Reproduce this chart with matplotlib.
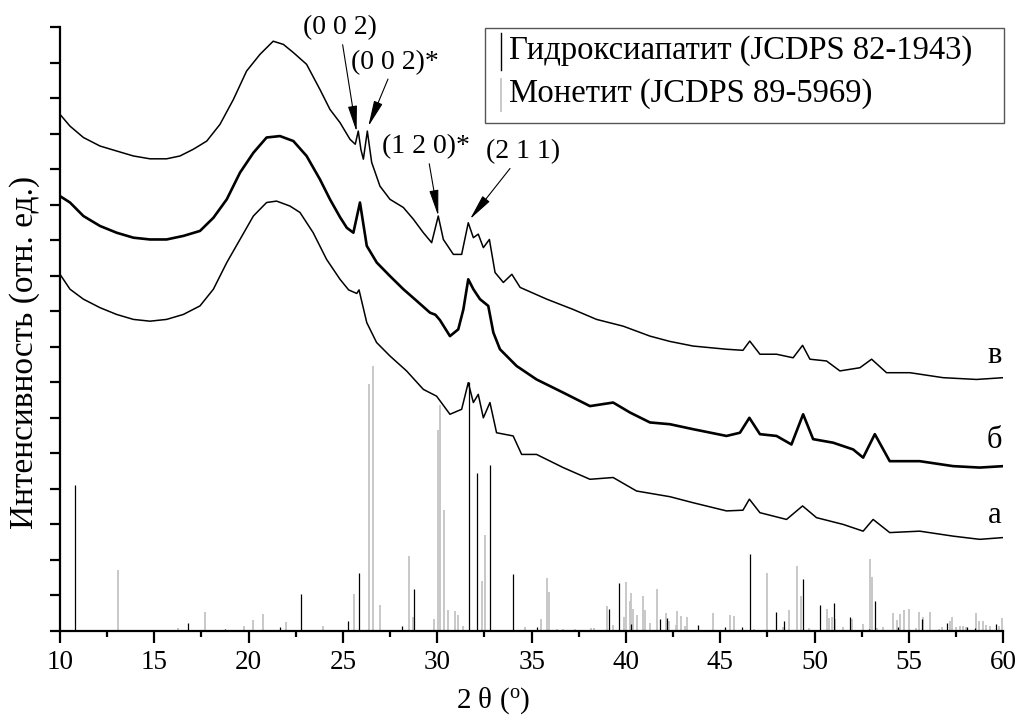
import matplotlib
matplotlib.use("Agg")
import matplotlib.pyplot as plt
from matplotlib.lines import Line2D
from matplotlib.patches import Rectangle

plt.rcParams['font.family'] = ['Liberation Serif', 'DejaVu Serif']
plt.rcParams['mathtext.fontset'] = 'custom'
plt.rcParams['mathtext.rm'] = 'Liberation Serif'
plt.rcParams['mathtext.it'] = 'Liberation Serif:italic'

# ---- data ----
x_v = [10.0, 10.53, 11.24, 12.12, 13.0, 13.89, 14.77, 15.65, 16.36, 17.07, 17.78, 18.48, 19.19, 19.89,
       20.6, 21.3, 21.84, 22.37, 23.07, 23.78, 24.31, 24.84, 25.37, 25.65, 25.81, 25.95, 26.08, 26.29,
       26.52, 26.96, 27.49, 28.2, 28.73, 29.26, 29.7, 30.05, 30.32, 30.85, 31.29, 31.64, 31.91, 32.17,
       32.44, 32.76, 33.06, 33.5, 33.95, 34.39, 35.8, 37.2, 38.44, 39.85, 41.27, 42.33, 43.56, 45.33,
       46.2, 46.56, 47.1, 47.98, 48.86, 49.36, 49.75, 50.63, 51.34, 52.4, 53.02, 53.81, 55.05, 56.81,
       58.58, 60.0]
y_v = [14.54, 14.21, 13.89, 13.65, 13.51, 13.37, 13.29, 13.29, 13.37, 13.56, 13.79, 14.26, 14.96, 15.76,
       16.23, 16.6, 16.51, 16.28, 15.95, 15.24, 14.68, 14.31, 13.84, 13.7, 14.07, 13.55, 13.28, 14.07,
       13.19, 12.52, 12.15, 11.92, 11.59, 11.21, 10.93, 11.68, 11.02, 10.6, 10.6, 11.49, 11.07, 11.17,
       10.79, 11.02, 10.09, 9.81, 10.04, 9.67, 9.34, 9.05, 8.77, 8.58, 8.3, 8.15, 8.02, 7.93,
       7.9, 8.16, 7.79, 7.79, 7.69, 8.04, 7.65, 7.6, 7.32, 7.41, 7.65, 7.27, 7.27, 7.13,
       7.08, 7.13]

x_b = [10.0, 10.53, 11.24, 12.12, 13.0, 13.89, 14.77, 15.65, 16.54, 17.42, 18.13, 18.84, 19.54, 20.25,
       20.95, 21.66, 22.37, 23.07, 23.78, 24.31, 24.84, 25.2, 25.55, 25.9, 26.26, 26.79, 27.49, 28.2,
       28.91, 29.61, 29.9, 30.14, 30.67, 31.11, 31.38, 31.64, 31.91, 32.26, 32.7, 32.97, 33.32, 34.2,
       35.26, 36.67, 38.09, 39.32, 40.21, 41.27, 42.33, 43.56, 45.33, 46.04, 46.54, 47.1, 47.98, 48.77,
       49.39, 49.92, 50.98, 52.04, 52.57, 53.19, 53.98, 55.57, 57.34, 58.75, 60.0]
y_b = [12.24, 12.06, 11.68, 11.4, 11.21, 11.07, 11.02, 11.02, 11.12, 11.26, 11.63, 12.15, 12.9, 13.46,
       13.89, 13.93, 13.79, 13.37, 12.71, 12.15, 11.65, 11.35, 11.21, 12.06, 10.84, 10.37, 9.99, 9.62,
       9.29, 8.96, 8.9, 8.75, 8.3, 8.49, 9.05, 9.9, 9.62, 9.34, 9.15, 8.4, 7.93, 7.46,
       7.08, 6.71, 6.33, 6.43, 6.15, 5.87, 5.82, 5.68, 5.49, 5.58, 6.0, 5.54, 5.49, 5.25,
       6.1, 5.4, 5.3, 5.11, 4.88, 5.54, 4.78, 4.78, 4.64, 4.6, 4.64]

x_a = [10.0, 10.53, 11.24, 12.12, 13.0, 13.89, 14.77, 15.65, 16.54, 17.42, 18.13, 18.84, 19.54, 20.25,
       20.95, 21.48, 22.19, 22.72, 23.42, 24.13, 24.84, 25.3, 25.73, 25.85, 26.26, 26.78, 27.49, 28.37,
       29.26, 29.96, 30.67, 31.29, 31.64, 31.91, 32.17, 32.44, 32.79, 33.14, 34.02, 34.47, 35.26, 36.67,
       38.09, 39.32, 40.56, 42.33, 43.56, 45.33, 46.2, 46.54, 47.1, 48.51, 49.36, 50.1, 51.51, 52.57,
       53.1, 53.98, 55.57, 57.34, 58.75, 60.0]
y_a = [10.04, 9.62, 9.34, 9.1, 8.91, 8.77, 8.72, 8.77, 8.91, 9.15, 9.62, 10.37, 11.02, 11.68,
       12.06, 12.1, 11.96, 11.78, 11.21, 10.46, 9.9, 9.6, 9.5, 9.6, 8.68, 8.12, 7.74, 7.32,
       6.8, 6.61, 6.1, 6.24, 6.99, 6.43, 6.66, 6.0, 6.43, 5.58, 5.49, 4.97, 4.97, 4.6,
       4.27, 4.32, 3.94, 3.78, 3.61, 3.38, 3.4, 3.71, 3.33, 3.14, 3.52, 3.19, 3.0, 2.81,
       3.14, 2.77, 2.81, 2.67, 2.58, 2.63]

ha_pos = [10.78, 16.80, 18.74, 21.66, 22.77, 25.28, 25.86, 28.11, 28.78, 31.66, 32.12, 32.78, 34.0,
          35.3, 39.08, 39.61, 40.29, 41.81, 42.18, 43.82, 45.26, 46.17, 46.55, 47.93, 48.37, 49.39,
          50.26, 51.02, 51.9, 52.86, 53.21, 54.43, 55.67, 56.99, 58.09, 58.5, 59.62]
ha_int = [4.11, 0.23, 0.05, 0.1, 1.05, 0.28, 1.63, 0.14, 1.17, 7.0, 4.46, 4.66, 1.61,
          0.1, 0.62, 1.35, 0.2, 0.35, 0.36, 0.17, 0.12, 0.12, 2.16, 0.53, 0.27, 1.47,
          0.73, 0.78, 0.4, 0.07, 0.84, 0.1, 0.33, 0.22, 0.1, 0.08, 0.2]

mo_pos = [13.09, 16.24, 17.68, 19.77, 20.21, 20.78, 21.96, 23.95, 25.6, 26.36, 26.57, 26.94, 28.51,
          28.72, 29.84, 30.05, 30.15, 30.37, 30.58, 30.95, 31.11, 31.37, 32.38, 32.51, 34.66, 35.47,
          35.82, 35.9, 36.34, 36.64, 37.29, 38.12, 38.3, 38.97, 39.29, 39.87, 40.01, 40.19, 40.26,
          40.35, 40.56, 40.91, 41.03, 41.27, 41.67, 42.13, 42.27, 42.63, 42.73, 42.89, 43.12, 43.24,
          44.2, 44.59, 44.89, 45.49, 45.7, 46.8, 47.5, 48.3, 48.63, 49.09, 49.3, 49.71, 50.63, 50.74,
          50.9, 51.07, 51.5, 51.99, 52.57, 52.93, 53.05, 53.31, 53.63, 54.18, 54.34, 54.55, 54.76,
          55.01, 55.38, 55.54, 55.76, 56.1, 56.6, 56.76, 57.18, 57.3, 57.5, 57.7, 57.85, 58.0, 58.55,
          58.71, 58.92, 59.1, 59.28, 59.78, 59.94]
mo_int = [1.72, 0.08, 0.54, 0.14, 0.3, 0.47, 0.25, 0.15, 1.05, 6.95, 7.46, 0.73, 2.1,
          0.4, 0.35, 5.66, 6.36, 3.4, 0.58, 0.55, 0.45, 0.14, 1.4, 2.7, 0.1, 0.33,
          1.5, 1.1, 0.07, 0.07, 0.05, 0.08, 0.08, 0.7, 0.17, 0.4, 1.38, 0.85, 1.07,
          0.63, 0.45, 0.98, 0.6, 0.22, 1.18, 0.5, 0.27, 0.18, 0.55, 0.41, 0.14, 0.39,
          0.03, 0.52, 0.03, 0.46, 0.41, 0.05, 1.63, 0.12, 0.58, 1.82, 0.99, 0.08, 0.63, 0.37,
          0.38, 0.35, 0.1, 0.35, 0.2, 2.04, 1.52, 0.08, 0.1, 0.5, 0.3, 0.47, 0.6,
          0.63, 0.08, 0.53, 0.39, 0.53, 0.05, 0.1, 0.28, 0.4, 0.12, 0.15, 0.15, 0.12, 0.5,
          0.27, 0.27, 0.18, 0.13, 0.15, 0.37]

curve_labels = ['а', 'б', 'в']
legend_labels = ['Гидроксиапатит (JCDPS 82-1943)', 'Монетит (JCDPS 89-5969)']
xticks = [10, 15, 20, 25, 30, 35, 40, 45, 50, 55, 60]

W, H = 1018, 715
def fx(px):
    return px / W
def fy(py):
    return 1 - py / H

# ---- figure ----
fig = plt.figure(figsize=(W / 100, H / 100), dpi=100)
ax = fig.add_axes([fx(60), fy(631), (1003.3 - 60) / W, (631 - 27) / H])

GRAY = '#c4c4c4'
ax.vlines(mo_pos, 0, mo_int, colors=GRAY, linewidth=1.3, zorder=1)
ax.vlines(ha_pos, 0, ha_int, colors='black', linewidth=0.9, zorder=2)

ax.plot(x_a, y_a, color='black', lw=1.1, zorder=3)
ax.plot(x_b, y_b, color='black', lw=1.9, zorder=3)
ax.plot(x_v, y_v, color='black', lw=1.1, zorder=3)

ax.set_xlim(10, 60)
ax.set_ylim(0, 17)
ax.set_xticks(xticks)
ax.set_xticklabels([str(t) for t in xticks], fontsize=19.5, family='Liberation Serif')
ax.set_xticks([12.5, 17.5, 22.5, 27.5, 32.5, 37.5, 42.5, 47.5, 52.5, 57.5], minor=True)
ax.set_yticks(range(0, 18))
ax.set_yticklabels([])
ax.tick_params(axis='x', which='major', direction='out', length=8.5, width=1.6, pad=5)
ax.tick_params(axis='x', which='minor', direction='out', length=4, width=1.6)
ax.tick_params(axis='y', which='major', direction='out', length=7.5, width=1.6)
for s in ['top', 'right']:
    ax.spines[s].set_visible(False)
for s in ['left', 'bottom']:
    ax.spines[s].set_linewidth(1.6)

fig.text(fx(493), fy(701), '2 θ ($^{\\rm o}$)', fontsize=21, ha='center', va='center')
fig.text(fx(25), fy(352), 'Интенсивность (отн. ед.)', fontsize=24, rotation=90,
         ha='center', va='center')

# curve labels
for lab, yv in zip(curve_labels, [3.04, 5.15, 7.54]):
    ax.text(59.55, yv, lab, fontsize=22, ha='center', va='baseline')

# annotations
arrow = dict(arrowstyle='-|>,head_length=0.8,head_width=0.14', color='black', lw=0.8,
             shrinkA=1, shrinkB=0)
ax.annotate('(0 0 2)', xy=(25.72, 14.05), xytext=(24.84, 16.97), fontsize=20, ha='center',
            va='center', arrowprops=arrow, annotation_clip=False)
ax.annotate('(0 0 2)*', xy=(26.34, 14.2), xytext=(27.75, 16.0), fontsize=20, ha='center',
            va='center', arrowprops=arrow)
ax.annotate('(1 2 0)*', xy=(30.05, 11.68), xytext=(29.42, 13.62), fontsize=20, ha='center',
            va='center', arrowprops=arrow)
ax.annotate('(2 1 1)', xy=(31.73, 11.59), xytext=(34.54, 13.48), fontsize=20, ha='center',
            va='center', arrowprops=arrow)

# legend (drawn as a framed box with line-marker handles)
fig.add_artist(Rectangle((fx(485), fy(123)), (1004 - 485) / W, (123 - 28) / H,
                         transform=fig.transFigure, facecolor='white', edgecolor='#555555',
                         linewidth=1.0, zorder=5))
fig.add_artist(Line2D([fx(500.5), fx(500.5)], [fy(33), fy(70)], color='black', lw=1.0,
                      transform=fig.transFigure, zorder=6))
fig.add_artist(Line2D([fx(500.5), fx(500.5)], [fy(79), fy(111)], color=GRAY, lw=1.3,
                      transform=fig.transFigure, zorder=6))
fig.text(fx(509), fy(51), legend_labels[0], fontsize=23.5, ha='left', va='center', zorder=7)
fig.text(fx(509), fy(94), legend_labels[1], fontsize=23.5, ha='left', va='center', zorder=7)

fig.savefig('out.png', dpi=100)
